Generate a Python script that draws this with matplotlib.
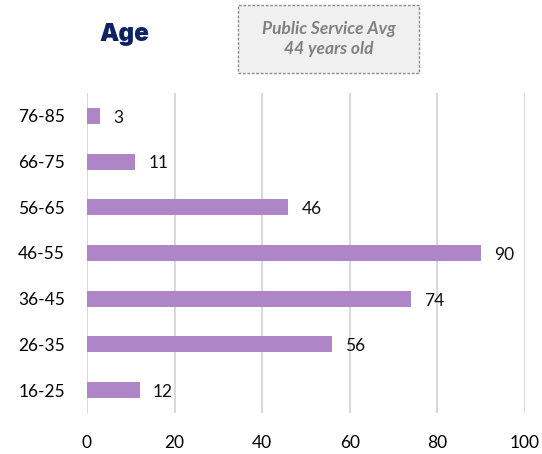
import matplotlib.pyplot as plt
from matplotlib.patches import FancyBboxPatch

# data
age_groups = ["16-25", "26-35", "36-45", "46-55", "56-65", "66-75", "76-85"]
counts = [12, 56, 74, 90, 46, 11, 3]
x_ticks = [0, 20, 40, 60, 80, 100]

plt.rcParams['font.family'] = ['Lato', 'DejaVu Sans']

fig = plt.figure(figsize=(5.42, 4.54), dpi=100)
ax = fig.add_axes([87 / 542, 0.0903, 438 / 542, 0.7049])

ypos = range(len(age_groups))
ax.barh(ypos, counts, height=0.35, color="#ae85c6", zorder=3)
for y, v in zip(ypos, counts):
    ax.text(v + 3.0, y - 0.04, str(v), va="center", ha="left", fontsize=12.5, color="#111111")

ax.set_xlim(0, 100)
ax.set_ylim(-0.5, len(age_groups) - 0.5)
ax.set_yticks(list(ypos))
ax.set_yticklabels(age_groups, fontsize=12.5)
ax.set_xticks(x_ticks)
ax.set_xticklabels([str(t) for t in x_ticks], fontsize=12.5)
ax.tick_params(axis="both", length=0)
ax.tick_params(axis="x", pad=16)
ax.tick_params(axis="y", pad=16)
ax.xaxis.grid(True, color="#d9d9d9", linewidth=1.5, zorder=0)
for s in ax.spines.values():
    s.set_visible(False)

# title
fig.text(99 / 542, 1 - 35 / 454, "Age", fontsize=17.5, fontweight="black", color="#0b2265",
         family=["Inter", "DejaVu Sans"], va="center", ha="left")

# annotation box
box = FancyBboxPatch((238 / 542, 1 - 73 / 454), 181 / 542, 68 / 454,
                     boxstyle="square,pad=0", transform=fig.transFigure,
                     facecolor="#f0f0f0", edgecolor="#8c8c8c", linestyle=(0, (2, 1.2)),
                     linewidth=1.0)
fig.patches.append(box)
fig.text(329 / 542, 1 - 39 / 454, "Public Service Avg\n44 years old", ha="center", va="center",
         fontsize=12.5, fontstyle="italic", fontweight="bold", color="#808080", linespacing=1.3)

plt.savefig("out.png", dpi=100)
